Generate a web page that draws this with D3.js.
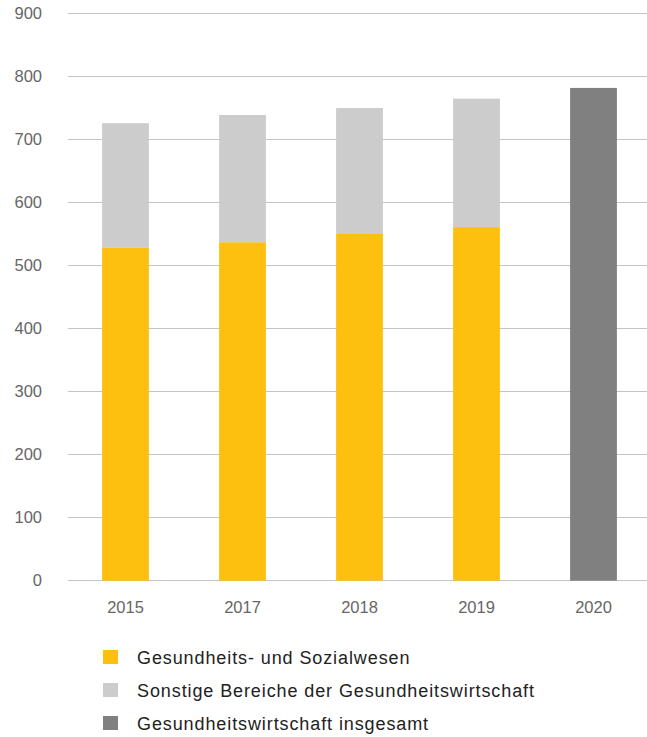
<!DOCTYPE html>
<html>
<head>
<meta charset="utf-8">
<script src="https://cdn.jsdelivr.net/npm/d3@7"></script>
<style>
  body { margin: 0; background: #fff; }
  svg text { font-family: "Liberation Sans", Arial, sans-serif; }
</style>
</head>
<body>
<div id="chart"></div>
<script>
// Chart data
const years = ['2015', '2017', '2018', '2019', '2020'];
const sozialwesen = [527, 536, 549, 560, 0];
const sonstige = [198, 202, 200, 204, 0];
const insgesamt = [0, 0, 0, 0, 781];
const yTicks = [0, 100, 200, 300, 400, 500, 600, 700, 800, 900];
const legendLabels = [
    'Gesundheits- und Sozialwesen',
    'Sonstige Bereiche der Gesundheitswirtschaft',
    'Gesundheitswirtschaft insgesamt'
];

const width = 647;
const height = 737;
const colors = ['#fdc00f', '#cccccc', '#808080'];

const svg = d3.select('#chart')
    .append('svg')
    .attr('width', width)
    .attr('height', height);

// Scales
const xScale = d3.scaleBand()
    .domain(years)
    .range([67, 652])
    .paddingInner(0.6)
    .paddingOuter(0.3);

const yScale = d3.scaleLinear()
    .domain([0, 900])
    .range([579.7, 13]);

// Gridlines
svg.append('g')
    .selectAll('line')
    .data(yTicks)
    .enter()
    .append('line')
    .attr('x1', 68)
    .attr('x2', width)
    .attr('y1', d => Math.round(yScale(d)) + 0.5)
    .attr('y2', d => Math.round(yScale(d)) + 0.5)
    .attr('stroke', '#c4c4c4')
    .attr('stroke-width', 1.2);

// Y labels
svg.append('g')
    .selectAll('text')
    .data(yTicks)
    .enter()
    .append('text')
    .attr('x', 42)
    .attr('y', d => yScale(d))
    .attr('dy', '0.36em')
    .attr('text-anchor', 'end')
    .attr('font-size', '16.5px')
    .attr('fill', '#666')
    .text(d => d);

// Stacked bars
const table = years.map((y, i) => ({
    year: y, soz: sozialwesen[i], son: sonstige[i], ges: insgesamt[i]
}));
const stack = d3.stack().keys(['soz', 'son', 'ges'])(table);

svg.append('g')
    .selectAll('g')
    .data(stack)
    .enter()
    .append('g')
    .attr('fill', (d, i) => colors[i])
    .selectAll('rect')
    .data(d => d.filter(p => p[1] > p[0]))
    .enter()
    .append('rect')
    .attr('x', d => xScale(d.data.year))
    .attr('width', xScale.bandwidth())
    .attr('y', d => yScale(d[1]))
    .attr('height', d => yScale(d[0]) - yScale(d[1]) + (d[0] === 0 ? 1 : 0));

// X labels
svg.append('g')
    .selectAll('text')
    .data(years)
    .enter()
    .append('text')
    .attr('x', d => xScale(d) + xScale.bandwidth() / 2)
    .attr('y', 613)
    .attr('text-anchor', 'middle')
    .attr('font-size', '16.5px')
    .attr('fill', '#666')
    .text(d => d);

// Legend
const legend = svg.append('g')
    .selectAll('g')
    .data(legendLabels)
    .enter()
    .append('g')
    .attr('transform', (d, i) => `translate(103, ${650 + i * 33})`);

legend.append('rect')
    .attr('width', 15)
    .attr('height', 14)
    .attr('fill', (d, i) => colors[i]);

legend.append('text')
    .attr('x', 34)
    .attr('y', 14)
    .attr('font-size', '18px')
    .attr('letter-spacing', '0.9px')
    .attr('fill', '#222')
    .text(d => d);
</script>
</body>
</html>
